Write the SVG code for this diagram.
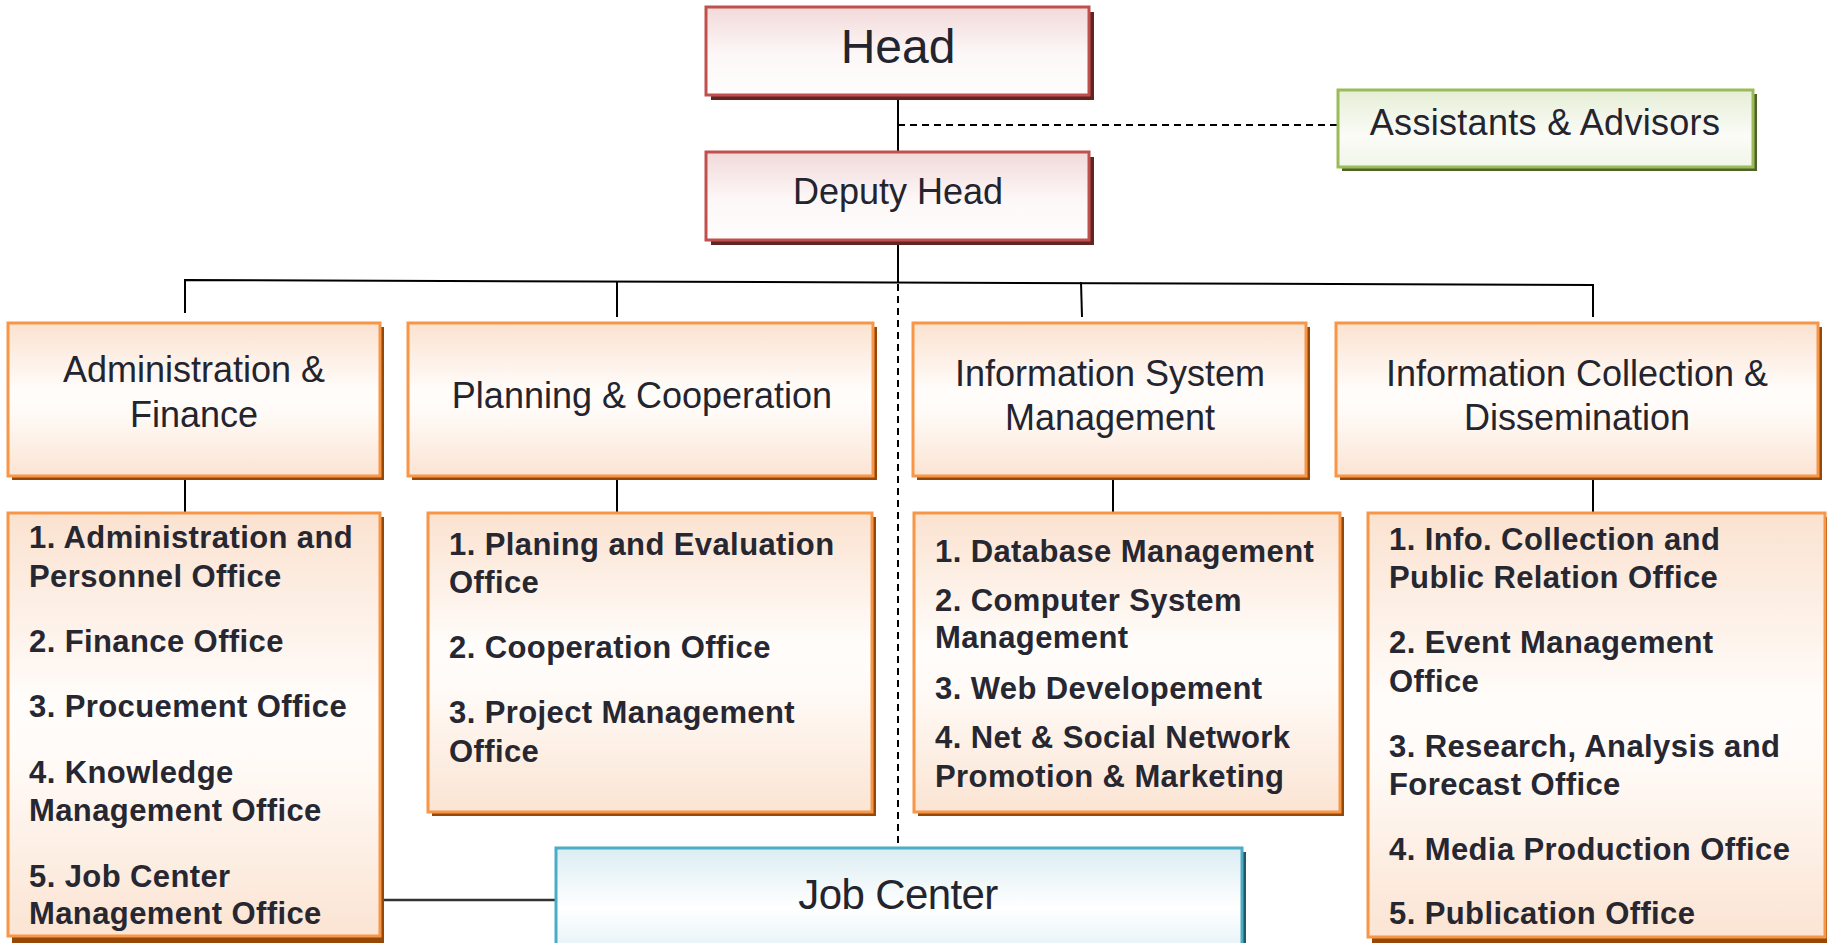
<svg xmlns="http://www.w3.org/2000/svg" width="1827" height="943" viewBox="0 0 1827 943">
<defs>
<linearGradient id="gO" x1="0" y1="0" x2="0" y2="1">
<stop offset="0" stop-color="#fbe2d0"/><stop offset="0.45" stop-color="#fffdfb"/><stop offset="0.6" stop-color="#fffaf6"/><stop offset="1" stop-color="#fbe4d3"/>
</linearGradient>
<linearGradient id="gR" x1="0" y1="0" x2="0" y2="1">
<stop offset="0" stop-color="#f2d9d9"/><stop offset="0.55" stop-color="#fdf8f8"/><stop offset="1" stop-color="#fefcfc"/>
</linearGradient>
<linearGradient id="gG" x1="0" y1="0" x2="0" y2="1">
<stop offset="0" stop-color="#e6eed6"/><stop offset="0.6" stop-color="#fbfcf7"/><stop offset="1" stop-color="#f1f5e8"/>
</linearGradient>
<linearGradient id="gB" x1="0" y1="0" x2="0" y2="1">
<stop offset="0" stop-color="#dbedf3"/><stop offset="0.5" stop-color="#ffffff"/><stop offset="1" stop-color="#dbedf3"/>
</linearGradient>
<style>
.o{fill:url(#gO);stroke:#f79646;stroke-width:3}
.os{fill:#974806}
.r{fill:url(#gR);stroke:#c0504d;stroke-width:3}
.rs{fill:#632523}
.g{fill:url(#gG);stroke:#9bbb59;stroke-width:3}
.gs{fill:#4f6228}
.b{fill:url(#gB);stroke:#4bacc6;stroke-width:3}
.bs{fill:#215968}
.t{font-family:"Liberation Sans",Arial,sans-serif;fill:#24242e;text-anchor:middle}
.h{font-size:36px;letter-spacing:0px}
.s{font-family:"Liberation Sans",Arial,sans-serif;fill:#272731;font-weight:bold;font-size:31px;letter-spacing:0.4px}
.ln{stroke:#000;stroke-width:2;fill:none}
.dl{stroke:#000;stroke-width:2;fill:none;stroke-dasharray:7 5}
</style>
</defs>

<g id="connectors">
<line class="ln" x1="898" y1="95" x2="898" y2="152"/>
<line class="dl" x1="898" y1="125" x2="1338" y2="125"/>
<line class="ln" x1="898" y1="240" x2="898" y2="283"/>
<path class="ln" d="M185,313 L185,280 L1593,285 L1593,317"/>
<line class="ln" x1="617" y1="281" x2="617" y2="317"/>
<line class="ln" x1="1081" y1="282" x2="1082" y2="317"/>
<line class="dl" x1="898" y1="284" x2="898" y2="848"/>
<line class="ln" x1="185" y1="476" x2="185" y2="513"/>
<line class="ln" x1="617" y1="476" x2="617" y2="513"/>
<line class="ln" x1="1113" y1="476" x2="1113" y2="513"/>
<line class="ln" x1="1593" y1="476" x2="1593" y2="513"/>
<line x1="380" y1="900" x2="556" y2="900" stroke="#333" stroke-width="2.5"/>
</g>

<g id="head">
<rect class="rs" x="711" y="12" width="383" height="88"/>
<rect class="r" x="706" y="7" width="383" height="88"/>
<text class="t" x="898" y="63" font-size="48">Head</text>
</g>

<g id="deputy-head">
<rect class="rs" x="711" y="157" width="383" height="88"/>
<rect class="r" x="706" y="152" width="383" height="88"/>
<text class="t" x="898" y="204" font-size="36">Deputy Head</text>
</g>

<g id="assistants">
<rect class="gs" x="1342" y="94" width="415" height="77"/>
<rect class="g" x="1338" y="90" width="415" height="77"/>
<text class="t" x="1545" y="135" font-size="36" letter-spacing="0.3">Assistants &amp; Advisors</text>
</g>

<g id="admin-finance">
<rect class="os" x="12" y="327" width="372" height="153"/>
<rect class="o" x="8" y="323" width="372" height="153"/>
<text class="t h" x="194" y="382">Administration &amp;</text>
<text class="t h" x="194" y="427">Finance</text>
</g>

<g id="planning">
<rect class="os" x="412" y="327" width="465" height="153"/>
<rect class="o" x="408" y="323" width="465" height="153"/>
<text class="t h" x="642" y="408">Planning &amp; Cooperation</text>
</g>

<g id="ism">
<rect class="os" x="917" y="327" width="393" height="153"/>
<rect class="o" x="913" y="323" width="393" height="153"/>
<text class="t h" x="1110" y="386">Information System</text>
<text class="t h" x="1110" y="430">Management</text>
</g>

<g id="icd">
<rect class="os" x="1340" y="327" width="482" height="153"/>
<rect class="o" x="1336" y="323" width="482" height="153"/>
<text class="t h" x="1577" y="386">Information Collection &amp;</text>
<text class="t h" x="1577" y="430">Dissemination</text>
</g>

<g id="admin-offices">
<rect class="os" x="12" y="517" width="372" height="427"/>
<rect class="o" x="8" y="513" width="372" height="423"/>
<text class="s" x="29" y="548">1. Administration and</text>
<text class="s" x="29" y="587">Personnel Office</text>
<text class="s" x="29" y="652">2. Finance Office</text>
<text class="s" x="29" y="717">3. Procuement Office</text>
<text class="s" x="29" y="783">4. Knowledge</text>
<text class="s" x="29" y="821">Management Office</text>
<text class="s" x="29" y="887">5. Job Center</text>
<text class="s" x="29" y="924">Management Office</text>
</g>

<g id="planning-offices">
<rect class="os" x="432" y="517" width="444" height="299"/>
<rect class="o" x="428" y="513" width="444" height="299"/>
<text class="s" x="449" y="555">1. Planing and Evaluation</text>
<text class="s" x="449" y="593">Office</text>
<text class="s" x="449" y="658">2. Cooperation Office</text>
<text class="s" x="449" y="723">3. Project Management</text>
<text class="s" x="449" y="762">Office</text>
</g>

<g id="ism-offices">
<rect class="os" x="918" y="517" width="426" height="299"/>
<rect class="o" x="914" y="513" width="426" height="299"/>
<text class="s" x="935" y="562">1. Database Management</text>
<text class="s" x="935" y="611">2. Computer System</text>
<text class="s" x="935" y="648">Management</text>
<text class="s" x="935" y="699">3. Web Developement</text>
<text class="s" x="935" y="748">4. Net &amp; Social Network</text>
<text class="s" x="935" y="787">Promotion &amp; Marketing</text>
</g>

<g id="icd-offices">
<rect class="os" x="1372" y="517" width="458" height="430"/>
<rect class="o" x="1368" y="513" width="457" height="424"/>
<text class="s" x="1389" y="550">1. Info. Collection and</text>
<text class="s" x="1389" y="588">Public Relation Office</text>
<text class="s" x="1389" y="653">2. Event Management</text>
<text class="s" x="1389" y="692">Office</text>
<text class="s" x="1389" y="757">3. Research, Analysis and</text>
<text class="s" x="1389" y="795">Forecast Office</text>
<text class="s" x="1389" y="860">4. Media Production Office</text>
<text class="s" x="1389" y="924">5. Publication Office</text>
</g>

<g id="job-center">
<rect class="bs" x="560" y="852" width="686" height="120"/>
<rect class="b" x="556" y="848" width="686" height="120"/>
<text class="t" x="898" y="909" font-size="42" letter-spacing="-0.6">Job Center</text>
</g>
</svg>
